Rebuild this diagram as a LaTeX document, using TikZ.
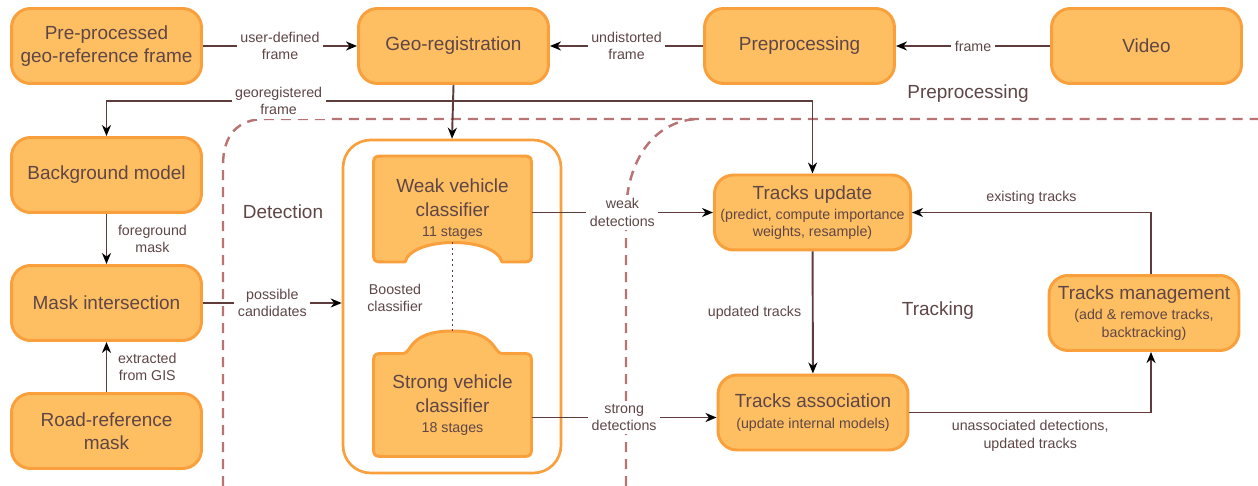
\documentclass[tikz,border=0pt]{standalone}
\usepackage{fontspec}
\setmainfont{Liberation Sans}
\usetikzlibrary{arrows.meta}

\definecolor{boxfill}{HTML}{FEBF62}
\definecolor{boxline}{HTML}{F9A03C}
\definecolor{txt}{HTML}{5F4646}
\definecolor{wire}{HTML}{5F3C3C}
\definecolor{zone}{HTML}{B97373}
\newcommand{\subfont}{\fontsize{8.1}{10}\selectfont}

\begin{document}
\begin{tikzpicture}[x=0.02cm, y=-0.02cm, % one unit = one pixel, y downwards
    box/.style={draw=boxline, fill=boxfill, line width=1.7pt, rounded corners=0.38cm,
        minimum width=3.8cm, minimum height=1.5cm, align=center, text=txt,
        font=\fontsize{10.8}{13}\selectfont},
    clsnode/.style={minimum width=3.16cm, align=center, text=txt, inner sep=0pt,
        font=\fontsize{10.8}{13.5}\selectfont},
    clsshape/.style={draw=boxline, fill=boxfill, line width=1.7pt, line join=round},
    lbl/.style={font=\subfont, text=txt, fill=white, align=center, inner sep=2pt},
    zonelbl/.style={font=\fontsize{10.8}{13}\selectfont, text=txt},
    arr/.style={draw=wire, line width=1.1pt,
        -{Stealth[black, length=0.22cm, width=0.18cm, inset=0.07cm]}},
    zone/.style={draw=zone, line width=1.4pt, dash pattern=on 0.2cm off 0.14cm}]

    \useasboundingbox (0,0) rectangle (1258,486);

    % 1. Region borders (dashed)
    \draw[zone] (223,486) -- (223,165) .. controls (223,135) and (238,119) .. (265,119) -- (1258,119);
    \draw[zone] (626,486) -- (626,215) .. controls (626,160) and (655,119) .. (700,119);
    \node[zonelbl] (lpre) at (968,94) {Preprocessing};
    \node[zonelbl] (ldet) at (283,212) {Detection};
    \node[zonelbl] (ltrk) at (938,311) {Tracking};

    % 2. Preprocessing row
    \node[box] (pgr) at (106.5,46) {Pre-processed\\geo-reference frame};
    \node[box] (geo) at (453.5,46) {Geo-registration};
    \node[box] (pre) at (799.5,46) {Preprocessing};
    \node[box] (vid) at (1146.5,46) {Video};

    % 3. Detection column
    \node[box] (bg) at (106.5,175) {Background model};
    \node[box] (mask) at (106.5,303) {Mask intersection};
    \node[box] (road) at (106.5,431) {Road-reference\\mask};

    % 4. Boosted classifier
    \node[draw=boxline, line width=1.5pt, rounded corners=0.55cm,
        minimum width=4.36cm, minimum height=6.66cm] (boost) at (452,306.5) {};
    % weak stage (notch at the bottom)
    \draw[clsshape] (405,262) -- (386,262) .. controls (373.5,262) .. (373.5,250) -- (373.5,168)
        .. controls (373.5,156) .. (386,156) -- (519,156) .. controls (531.5,156) .. (531.5,168)
        -- (531.5,250) .. controls (531.5,262) .. (519,262) -- (502,262)
        .. controls (495,236) and (412,236) .. (405,262) -- cycle;
    \node[clsnode, minimum height=2.12cm] (weak) at (452.5,209) {Weak vehicle\\classifier\\[-2pt]\subfont 11 stages};
    % strong stage (bump on top)
    \draw[clsshape] (373.5,366) -- (373.5,444) .. controls (373.5,456.5) .. (386,456.5) -- (519,456.5)
        .. controls (531.5,456.5) .. (531.5,444) -- (531.5,366) .. controls (531.5,353.5) .. (519,353.5)
        -- (502,353.5) .. controls (493,353.5) and (497,331) .. (452.5,331)
        .. controls (408,331) and (412,353.5) .. (403,353.5) -- (386,353.5)
        .. controls (373.5,353.5) .. (373.5,366) -- cycle;
    \node[clsnode, minimum height=2.06cm] (strong) at (452.5,405) {Strong vehicle\\classifier\\[-2pt]\subfont 18 stages};
    \draw[wire, line width=1.1pt, dotted] ([yshift=0.4cm]weak.south) -- ([yshift=0.44cm]strong.north);
    \node[font=\subfont, text=txt, align=center] (bst) at (395,298) {Boosted\\classifier};

    % 5. Tracking
    \node[box] (tu) at (812.5,212.5) {Tracks update\\[-1.5pt]\subfont (predict, compute importance\\[-3pt]\subfont weights, resample)};
    \node[box] (ta) at (813,412.5) {Tracks association\\[-1.5pt]\subfont (update internal models)};
    \node[box] (tm) at (1144,313) {Tracks management\\[-1.5pt]\subfont (add \& remove tracks,\\[-3pt]\subfont backtracking)};

    % 6. Connections
    \draw[arr] (pgr) -- node[lbl] {user-defined\\frame} (geo);
    \draw[arr] (pre) -- node[lbl] {undistorted\\frame} (geo);
    \draw[arr] (vid) -- node[lbl] {frame} (pre);
    \draw[arr] (geo.south) -- (boost.north);
    \coordinate (gj) at (453.5,101);
    \draw[arr] (gj) -| node[lbl, pos=0.252] {georegistered\\frame} (bg.north);
    \draw[arr] (gj) -| (tu.north);
    \draw[arr] (bg) -- node[lbl, right=4pt] {foreground\\mask} (mask);
    \draw[arr] (road) -- node[lbl, right=4pt] {extracted\\from GIS} (mask);
    \draw[arr] (mask.east) -- node[lbl] {possible\\candidates} (mask.east -| boost.west);
    \draw[arr] (weak.east |- tu.west) -- node[lbl] {weak\\detections} (tu.west);
    \draw[arr] ([yshift=-0.1cm]strong.east |- ta.west) -- node[lbl] {strong\\detections} ([yshift=-0.1cm]ta.west);
    \draw[arr] (tu) -- node[lbl, left=4pt] {updated tracks} (ta);
    \draw[arr] (ta.east) -| node[lbl, pos=0.25, below=2pt] {unassociated detections,\\updated tracks} ([xshift=0.14cm]tm.south);
    \draw[arr] ([xshift=0.14cm]tm.north) |- node[lbl, pos=0.75, above=2pt] {existing tracks} (tu.east);
\end{tikzpicture}
\end{document}
